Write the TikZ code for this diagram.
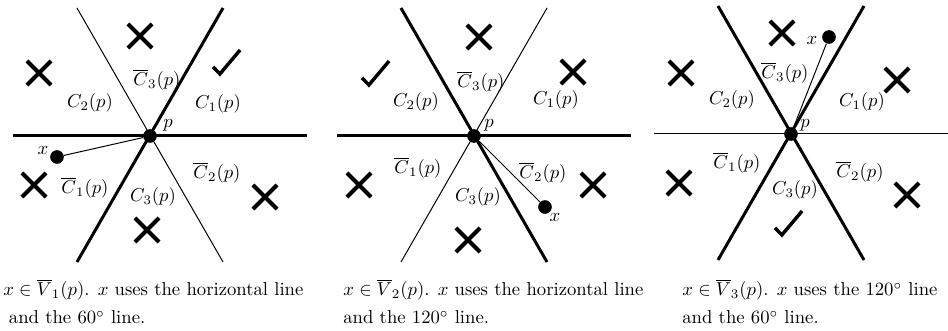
\documentclass[tikz,border=0pt]{standalone}
\usepackage{amsmath,amssymb}
\usetikzlibrary{shapes.misc}

\begin{document}
\begin{tikzpicture}[x=0.535pt, y=-0.535pt,
  bold/.style={line width=1.6pt},
  fine/.style={line width=0.53pt},
  pt/.style={circle, fill, inner sep=0pt, minimum size=7.3pt},
  nope/.style={cross out, draw, line width=2.15pt, minimum size=10.7pt, inner sep=0pt},
  yes/.style={minimum size=18pt, inner sep=0pt,
    path picture={\draw[line width=1.85pt]
      ([shift={(-7.5pt,-2.6pt)}]path picture bounding box.center) --
      ([shift={(-3.8pt,-6.4pt)}]path picture bounding box.center) --
      ([shift={(7pt,6.4pt)}]path picture bounding box.center);}},
  cone/.style={inner sep=0pt},
  legend/.style={align=left, anchor=north west, inner sep=0pt}
]
  \useasboundingbox (0,0) rectangle (948,331);

  % first panel: x in V1
  \begin{scope}[shift={(150,136)}]
    \draw[bold] (-137,0) -- (157,0);
    \draw[bold] (-73,126) -- (73,-128);
    \draw[fine] (-73,-128) -- (73,126);
    \node[pt] (p1) at (0,0) {};
    \node[pt] (x1) at (-93,21) {};
    \draw[fine] (x1) -- (p1);
    \node[cone] (x1l) at (-107,14) {$x$};
    \node[cone] (p1l) at (18,-11) {$p$};
    \node[cone] (c1a) at (68,-32) {$C_1(p)$};
    \node[cone] (c1b) at (-65,52) {$\overline{C}_1(p)$};
    \node[cone] (c2a) at (-60,-33) {$C_2(p)$};
    \node[cone] (c2b) at (67,37) {$\overline{C}_2(p)$};
    \node[cone] (c3a) at (3,61) {$C_3(p)$};
    \node[cone] (c3b) at (7,-56) {$\overline{C}_3(p)$};
    \node[nope] (n1a) at (-10,-100) {};
    \node[nope] (n1b) at (-111,-63) {};
    \node[nope] (n1c) at (-116,49) {};
    \node[nope] (n1d) at (-3,94) {};
    \node[nope] (n1e) at (115,61) {};
    \node[yes] (y1) at (77,-74) {};
  \end{scope}
  \node[legend] (leg1) at (3,279)
    {$x\in\overline{V}_1(p)$. $x$ uses the horizontal line\\[3pt]\hspace*{3pt}and the $60^\circ$ line.};

  % second panel: x in V2
  \begin{scope}[shift={(474,136)}]
    \draw[bold] (-137,0) -- (157,0);
    \draw[fine] (-73,126) -- (73,-128);
    \draw[bold] (-73,-128) -- (73,126);
    \node[pt] (p2) at (0,0) {};
    \node[pt] (x2) at (71,71) {};
    \draw[fine] (x2) -- (p2);
    \node[cone] (x2l) at (81,81) {$x$};
    \node[cone] (p2l) at (15,-11) {$p$};
    \node[cone] (c1a) at (82,-36) {$C_1(p)$};
    \node[cone] (c1b) at (-56,32) {$\overline{C}_1(p)$};
    \node[cone] (c2a) at (-58,-34) {$C_2(p)$};
    \node[cone] (c2b) at (69,37) {$\overline{C}_2(p)$};
    \node[cone] (c3a) at (4,61) {$C_3(p)$};
    \node[cone] (c3b) at (7,-54) {$\overline{C}_3(p)$};
    \node[nope] (n2a) at (5,-99) {};
    \node[nope] (n2b) at (99,-64) {};
    \node[nope] (n2c) at (-115,49) {};
    \node[nope] (n2d) at (-6,104) {};
    \node[nope] (n2e) at (119,49) {};
    \node[yes] (y2) at (-98,-63) {};
  \end{scope}
  \node[legend] (leg2) at (343,279)
    {$x\in\overline{V}_2(p)$. $x$ uses the horizontal line\\[3pt]and the $120^\circ$ line.};

  % third panel: x in V3
  \begin{scope}[shift={(791,134)}]
    \draw[fine] (-137,0) -- (157,0);
    \draw[bold] (-73,126) -- (73,-128);
    \draw[bold] (-73,-128) -- (73,126);
    \node[pt] (p3) at (0,0) {};
    \node[pt] (x3) at (38,-97) {};
    \draw[fine] (x3) -- (p3);
    \node[cone] (x3l) at (21,-94) {$x$};
    \node[cone] (p3l) at (14,-9) {$p$};
    \node[cone] (c1a) at (71,-32) {$C_1(p)$};
    \node[cone] (c1b) at (-54,29) {$\overline{C}_1(p)$};
    \node[cone] (c2a) at (-59,-34) {$C_2(p)$};
    \node[cone] (c2b) at (69,38) {$\overline{C}_2(p)$};
    \node[cone] (c3a) at (4,56) {$C_3(p)$};
    \node[cone] (c3b) at (-6,-61) {$\overline{C}_3(p)$};
    \node[nope] (n3a) at (-9,-101) {};
    \node[nope] (n3b) at (-110,-61) {};
    \node[nope] (n3c) at (106,-54) {};
    \node[nope] (n3d) at (-112,49) {};
    \node[nope] (n3e) at (116,61) {};
    \node[yes] (y3) at (-2,89) {};
  \end{scope}
  \node[legend] (leg3) at (682,279)
    {$x\in\overline{V}_3(p)$. $x$ uses the $120^\circ$ line\\[3pt]and the $60^\circ$ line.};
\end{tikzpicture}
\end{document}
